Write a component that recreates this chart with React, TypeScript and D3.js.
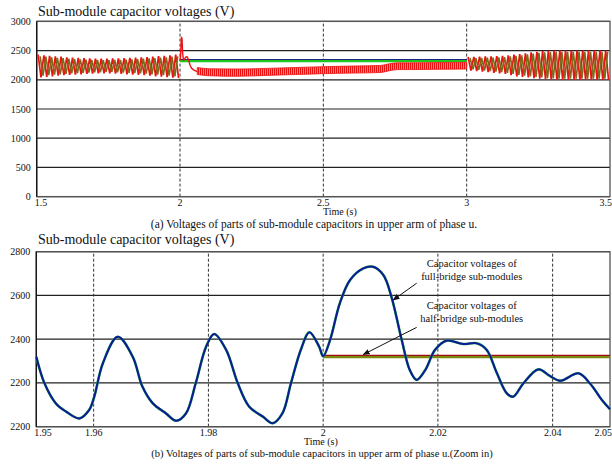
import * as d3 from 'd3';

// ---------- panel (a) data ----------
const topYTicks = [0, 500, 1000, 1500, 2000, 2500, 3000];
const topXTicks = [1.5, 2, 2.5, 3, 3.5];
const topXLabels = ['1.5', '2', '2.5', '3', '3.5'];
const topDashed = [2, 2.5, 3];

// 50 Hz ripple before the fault (1.5 s - 2.0 s): peak / trough of each cycle
const redPeaksA = [2430, 2420, 2410, 2400, 2395, 2385, 2380, 2375, 2370, 2365, 2360, 2360, 2360, 2365, 2365, 2370, 2375, 2380, 2385, 2390, 2395, 2405, 2410, 2420, 2430];
const redTroughsA = [2040, 2050, 2060, 2070, 2080, 2085, 2090, 2095, 2100, 2105, 2110, 2110, 2110, 2105, 2100, 2095, 2090, 2085, 2080, 2070, 2060, 2055, 2045, 2035, 2030];
const olivePeaksA = [2400, 2395, 2385, 2375, 2370, 2360, 2355, 2350, 2345, 2340, 2340, 2335, 2335, 2340, 2340, 2345, 2350, 2355, 2360, 2365, 2370, 2380, 2385, 2395, 2400];
const oliveTroughsA = [2070, 2080, 2090, 2095, 2100, 2110, 2115, 2120, 2125, 2130, 2130, 2135, 2135, 2130, 2125, 2120, 2115, 2110, 2105, 2095, 2090, 2080, 2070, 2060, 2055];

// fault transient of the red trace
const redTransient: [number, number][] = [
  [2.0, 2330], [2.002, 2420], [2.004, 2650], [2.005, 2735], [2.007, 2700], [2.009, 2460],
  [2.012, 2330], [2.016, 2360], [2.02, 2390], [2.025, 2395], [2.03, 2340], [2.035, 2250],
  [2.04, 2200], [2.05, 2160], [2.06, 2140],
];
// noisy red band 2.06 s - 3.0 s
const bandTimes = [2.06, 2.1, 2.2, 2.3, 2.4, 2.5, 2.6, 2.7, 2.73, 2.76, 2.8, 2.9, 3.0];
const bandLower = [2090, 2070, 2060, 2075, 2090, 2105, 2115, 2125, 2155, 2175, 2175, 2180, 2185];
const bandUpper = [2210, 2190, 2185, 2195, 2210, 2225, 2235, 2245, 2275, 2290, 2290, 2295, 2300];
// full-bridge capacitor levels while blocked
const flatNavy = 2348;
const flatGreen = 2322;

// ripple after recovery (3.0 s - 3.5 s)
const redPeaksC = [2390, 2390, 2395, 2400, 2400, 2405, 2410, 2420, 2430, 2440, 2455, 2470, 2480, 2490, 2495, 2500, 2500, 2500, 2500, 2500, 2500, 2500, 2500, 2500, 2500];
const redTroughsC = [2160, 2150, 2140, 2130, 2120, 2110, 2100, 2080, 2060, 2050, 2040, 2030, 2020, 2010, 2005, 2000, 2000, 2000, 2000, 2000, 2000, 2000, 2000, 2000, 2000];
const olivePeaksC = [2370, 2370, 2375, 2380, 2380, 2385, 2390, 2400, 2410, 2420, 2435, 2450, 2460, 2470, 2475, 2480, 2480, 2480, 2480, 2480, 2480, 2480, 2480, 2480, 2480];
const oliveTroughsC = [2180, 2170, 2160, 2150, 2140, 2130, 2120, 2100, 2085, 2070, 2060, 2050, 2040, 2030, 2025, 2020, 2020, 2020, 2020, 2020, 2020, 2020, 2020, 2020, 2020];

// ---------- panel (b) data ----------
const botYTicks = [2000, 2200, 2400, 2600, 2800];
const botYLabels = ['2200', '2200', '2400', '2600', '2800'];
const botXTicks = [1.95, 1.96, 1.98, 2, 2.02, 2.04, 2.05];
const botXLabels = ['1.95', '1.96', '1.98', '2', '2.02', '2.04', '2.05'];
const botDashed = [1.96, 1.98, 2, 2.02, 2.04];

const zoomTimes = [
  1.95, 1.9514, 1.9534, 1.9552, 1.9575, 1.9592, 1.9601, 1.9616, 1.9642, 1.9668, 1.9685, 1.9703,
  1.9726, 1.9744, 1.9761, 1.9778, 1.9796, 1.981, 1.9831, 1.9851, 1.9871, 1.9895, 1.9912, 1.9929,
  1.9944, 1.9961, 1.9976, 1.9993, 2.0, 2.0012, 2.0029, 2.0047, 2.007, 2.0087, 2.0105, 2.0119,
  2.0137, 2.0151, 2.0163, 2.0178, 2.0195, 2.0215, 2.0244, 2.0268, 2.0285, 2.0303, 2.032, 2.0331,
  2.0349, 2.0375, 2.0395, 2.0413, 2.0445, 2.0465, 2.0486, 2.05,
];
const zoomVolts = [
  2320, 2200, 2107, 2069, 2038, 2076, 2137, 2290, 2411, 2320, 2183, 2107,
  2061, 2027, 2061, 2200, 2366, 2424, 2351, 2200, 2092, 2046, 2016, 2061,
  2200, 2351, 2432, 2366, 2322, 2396, 2564, 2671, 2724, 2731, 2693, 2594,
  2396, 2259, 2214, 2259, 2351, 2393, 2378, 2381, 2351, 2244, 2153, 2137,
  2198, 2262, 2232, 2210, 2244, 2198, 2122, 2080,
];
const halfBridgeOlive = 2320;
const halfBridgeRed = 2326;

const FONT = '"Liberation Serif", "Times New Roman", serif';

function zigzag(start: number, peaks: number[], troughs: number[], shift: number): [number, number][] {
  const pts: [number, number][] = [];
  peaks.forEach((p, i) => {
    pts.push([start + shift + 0.02 * i + 0.005, p]);
    pts.push([start + shift + 0.02 * i + 0.015, troughs[i]]);
  });
  return pts;
}

function Frame({ x, y, xTicks, xLabels, yTicks, yLabels, dashed }: any) {
  const [x0, x1] = x.range();
  const [y0, y1] = y.range();
  return (
    <g fontFamily={FONT} fill="#111">
      {yTicks.map((v: number) => (
        <line key={'h' + v} x1={x0} x2={x1} y1={y(v)} y2={y(v)} stroke="#222" strokeWidth={1.2} />
      ))}
      {dashed.map((t: number) => (
        <line key={'d' + t} x1={x(t)} x2={x(t)} y1={y0} y2={y1} stroke="#333" strokeWidth={1} strokeDasharray="3,2" />
      ))}
      <rect x={x0} y={y1} width={x1 - x0} height={y0 - y1} fill="none" stroke="#555" strokeWidth={1.3} />
      <line x1={x0} x2={x0} y1={y0} y2={y1} stroke="#111" strokeWidth={1.3} />
      {yTicks.map((v: number, i: number) => (
        <text key={'yl' + v} x={x0 - 6} y={y(v)} dy="0.35em" textAnchor="end" fontSize={10}>
          {yLabels[i]}
        </text>
      ))}
      {xTicks.map((t: number, i: number) => (
        <text
          key={'xl' + t}
          x={i === 0 ? x0 - 2 : i === xTicks.length - 1 ? x1 + 2 : x(t)}
          y={y0 + 9}
          textAnchor={i === 0 ? 'start' : i === xTicks.length - 1 ? 'end' : 'middle'}
          fontSize={10}
        >
          {xLabels[i]}
        </text>
      ))}
    </g>
  );
}

export default function App() {
  // panel (a)
  const xa = d3.scaleLinear().domain([1.5, 3.5]).range([36.7, 610]);
  const ya = d3.scaleLinear().domain([0, 3000]).range([196.6, 21.4]);
  const la = d3.line<[number, number]>().x((d) => xa(d[0])).y((d) => ya(d[1]));
  const band = d3
    .area<number>()
    .x((t) => xa(t))
    .y0((_, i) => ya(bandLower[i]))
    .y1((_, i) => ya(bandUpper[i]))
    .curve(d3.curveMonotoneX);

  const redA = zigzag(1.5, redPeaksA, redTroughsA, 0).filter((d) => d[0] <= 2.0);
  const oliveA = zigzag(1.5, olivePeaksA, oliveTroughsA, 0.007).filter((d) => d[0] <= 2.0);
  const redC = zigzag(3.0, redPeaksC, redTroughsC, 0).filter((d) => d[0] <= 3.5);
  const oliveC = zigzag(3.0, olivePeaksC, oliveTroughsC, 0.007).filter((d) => d[0] <= 3.5);

  // panel (b)
  const xb = d3.scaleLinear().domain([1.95, 2.05]).range([36.3, 610]);
  const yb = d3.scaleLinear().domain([2000, 2800]).range([426.7, 251.7]);
  const lb = d3
    .line<number>()
    .x((_, i) => xb(zoomTimes[i]))
    .y((v) => yb(v))
    .curve(d3.curveCatmullRom.alpha(0.5));

  const redColor = '#ee1111';
  const oliveColor = '#7e6a1c';

  return (
    <svg width={612} height={464} style={{ position: 'absolute', left: 0, top: 0, background: '#fff' }}>
      <defs>
        <pattern id="noise" width={2} height={4} patternUnits="userSpaceOnUse">
          <rect width={2} height={4} fill="#fff" />
          <rect width={1.5} height={4} fill={redColor} />
        </pattern>
        <marker id="arr" viewBox="0 0 10 10" refX={9} refY={5} markerWidth={7} markerHeight={7} orient="auto">
          <path d="M0,1 L10,5 L0,9 z" fill="#111" />
        </marker>
      </defs>

      {/* ---------- (a) ---------- */}
      <text x={38} y={16} fontFamily={FONT} fontSize={14} fill="#111">
        Sub-module capacitor voltages (V)
      </text>
      <Frame x={xa} y={ya} xTicks={topXTicks} xLabels={topXLabels} yTicks={topYTicks}
        yLabels={topYTicks.map(String)} dashed={topDashed} />
      <g fill="none" strokeLinejoin="bevel">
        <path d={la(redA) || ''} stroke={redColor} strokeWidth={1.7} />
        <path d={la(oliveA) || ''} stroke={oliveColor} strokeWidth={1.6} />
        <line x1={xa(2.0)} x2={xa(3.0)} y1={ya(flatGreen)} y2={ya(flatGreen)} stroke="#1ec81e" strokeWidth={2.6} />
        <line x1={xa(2.0)} x2={xa(3.0)} y1={ya(flatNavy)} y2={ya(flatNavy)} stroke="#1a237e" strokeWidth={1.2} />
        <path d={band(bandTimes) || ''} fill="url(#noise)" stroke={redColor} strokeWidth={0.8} />
        <path d={la(redTransient) || ''} stroke={redColor} strokeWidth={1.4} />
        <path d={la(redC) || ''} stroke={redColor} strokeWidth={1.7} />
        <path d={la(oliveC) || ''} stroke={oliveColor} strokeWidth={1.6} />
      </g>
      <text x={323} y={215} fontFamily={FONT} fontSize={10} fill="#111">Time (s)</text>
      <text x={314} y={228} textAnchor="middle" fontFamily={FONT} fontSize={11.5} fill="#111">
        (a) Voltages of parts of sub-module capacitors in upper arm of phase u.
      </text>

      {/* ---------- (b) ---------- */}
      <text x={38} y={244} fontFamily={FONT} fontSize={14} fill="#111">
        Sub-module capacitor voltages (V)
      </text>
      <Frame x={xb} y={yb} xTicks={botXTicks} xLabels={botXLabels} yTicks={botYTicks}
        yLabels={botYLabels} dashed={botDashed} />
      <g fill="none">
        <line x1={xb(2.0)} x2={xb(2.05)} y1={yb(halfBridgeOlive)} y2={yb(halfBridgeOlive)} stroke="#7a8a10" strokeWidth={3} />
        <line x1={xb(2.0)} x2={xb(2.05)} y1={yb(halfBridgeRed)} y2={yb(halfBridgeRed)} stroke="#a01010" strokeWidth={1.2} />
        <path d={lb(zoomVolts) || ''} stroke="#2fb34a" strokeWidth={2.6} />
        <path d={lb(zoomVolts) || ''} stroke="#0c1c96" strokeWidth={2} />
      </g>
      <g fontFamily={FONT} fontSize={10.5} fill="#111" textAnchor="middle">
        <text x={xb(2.0259)} y={yb(2729)}>Capacitor voltages of</text>
        <text x={xb(2.0259)} y={yb(2729) + 13}>full-bridge sub-modules</text>
        <text x={xb(2.0259)} y={yb(2538)}>Capacitor voltages of</text>
        <text x={xb(2.0259)} y={yb(2538) + 13}>half-bridge sub-modules</text>
      </g>
      <line x1={xb(2.0163)} y1={yb(2656)} x2={xb(2.0122)} y2={yb(2579)} stroke="#111" strokeWidth={1} markerEnd="url(#arr)" />
      <line x1={xb(2.0163)} y1={yb(2454)} x2={xb(2.007)} y2={yb(2330)} stroke="#111" strokeWidth={1} markerEnd="url(#arr)" />
      <text x={304} y={445} fontFamily={FONT} fontSize={10} fill="#111">Time (s)</text>
      <text x={322} y={457} textAnchor="middle" fontFamily={FONT} fontSize={10.5} fill="#111">
        (b) Voltages of parts of sub-module capacitors in upper arm of phase u.(Zoom in)
      </text>
    </svg>
  );
}
